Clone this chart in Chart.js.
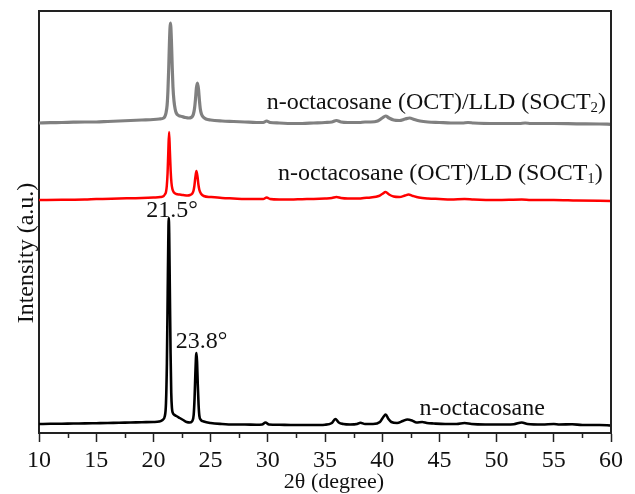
<!DOCTYPE html>
<html>
<head>
<meta charset="utf-8">
<script src="https://cdn.jsdelivr.net/npm/chart.js@4.4.1/dist/chart.umd.min.js"></script>
<style>
  html, body { margin: 0; padding: 0; background: #ffffff; }
  #wrap { width: 635px; height: 494px; position: relative; }
</style>
</head>
<body>
<div id="wrap"><canvas id="c" width="635" height="494"></canvas></div>
<script>
// 2θ (degree) tick labels
const xTicks = [10, 15, 20, 25, 30, 35, 40, 45, 50, 55, 60];
const xMinorTicks = [12.5, 17.5, 22.5, 27.5, 32.5, 37.5, 42.5, 47.5, 52.5, 57.5];

// Series: [2θ, stacked intensity (a.u.)]
const octPoints = [
  [10,9],[11,9.2],[12,9.3],[13,9.5],[14,9.6],[15,9.8],[16,10],[17,10.3],[18,10.5],[19,10.8],
  [20,11],[20.5,11.5],[20.8,13],[21.0,17],[21.1,30],[21.18,70],[21.25,140],[21.3,190],[21.34,215],
  [21.38,200],[21.43,150],[21.5,80],[21.56,40],[21.62,25],[21.7,20],[21.8,18.5],[22.0,17],[22.3,15],
  [22.6,13],[22.9,11],[23.2,10.5],[23.4,12],[23.52,18],[23.6,35],[23.67,60],[23.73,77],[23.77,80],
  [23.82,70],[23.88,48],[23.95,28],[24.02,17],[24.15,13],[24.4,11.5],[25,10],[26,9],[27,8.5],[28,8.5],
  [29,8.3],[29.5,8.5],[29.8,10.5],[30.1,8.5],[31,8.2],[32,8],[33,8],[34,8],[35,8.3],[35.6,10],[35.9,14],
  [36.2,10.5],[36.6,9],[37.2,8.5],[37.8,9],[38.1,10.3],[38.5,9],[39.2,9],[39.8,11],[40.1,16],[40.3,18.5],
  [40.55,14],[40.8,11],[41.3,10],[41.8,12],[42.2,13.5],[42.6,12.5],[43.0,10.5],[43.5,11],[43.9,10],
  [44.5,9.5],[45.5,9],[46.5,9],[47.2,10],[47.8,9],[49,8.5],[50,8.5],[51.5,8.8],[52.2,10.5],[52.7,9],
  [54,8.5],[55,9],[55.5,8.5],[56.6,8.7],[57.5,8],[59,8],[60,7.5]
];
const soct1Points = [
  [10,233],[12,233.3],[14,233.5],[15,234],[17,234.5],[19,235],[20,235.5],[20.6,236],[20.9,237],
  [21.0,238.5],[21.1,241],[21.17,247],[21.24,260],[21.3,280],[21.37,301],[21.44,282],[21.51,262],
  [21.58,250],[21.66,244],[21.8,240.5],[22.0,239],[22.3,238.5],[22.6,238],[23.0,237.5],[23.2,238],
  [23.4,239.5],[23.5,242],[23.58,247],[23.66,255],[23.76,262],[23.86,256],[23.94,248],[24.02,243],
  [24.15,239.5],[24.4,237],[25,236],[26,235],[27,234.5],[28,234],[29,234],[29.6,234],[29.9,235.5],
  [30.2,234],[31,233.5],[32,233.5],[33,233.8],[34,234],[35,234.5],[35.6,235],[36,236],[36.4,235],
  [37,234.5],[38,234.5],[38.4,235],[39,235.5],[39.7,237],[40.0,239],[40.3,241],[40.6,238.5],[41,236.5],
  [41.5,236],[42,237.5],[42.3,238.5],[42.7,237],[43.2,235.5],[44,234.5],[45,234],[46,233.5],[47.2,234],
  [48,233.5],[50,233],[52.2,233.5],[53,233],[55,233],[57,232.5],[60,232]
];
const soct2Points = [
  [10,310],[11,310.3],[12,310.5],[13,310.8],[14,311],[15,311],[16,311.5],[17,312],[18,312.5],[19,313],
  [20,313.5],[20.5,314],[20.9,315],[21.0,316.5],[21.1,320],[21.2,328],[21.27,342],[21.34,365],
  [21.41,393],[21.49,410],[21.57,394],[21.64,368],[21.71,346],[21.8,332],[21.9,324],[22.0,320],
  [22.2,317.5],[22.5,316.5],[22.8,315.5],[23.1,315],[23.3,315.5],[23.4,316.5],[23.5,319],[23.6,325],
  [23.68,334],[23.76,345],[23.85,350],[23.94,344],[24.02,333],[24.1,324],[24.2,319],[24.35,316],
  [24.6,314],[25,313],[26,312],[27,311.5],[28,311],[29,310.5],[29.6,310.5],[29.9,312],[30.2,310.5],[31,310],
  [32,309.5],[33,309.5],[34,310],[35,310.5],[35.6,311],[36,312.5],[36.4,311],[37,310.5],[38,310.5],
  [38.5,311],[39,311],[39.6,312],[40.0,315],[40.3,317],[40.6,315],[41,313],[41.5,312.5],[42,314],
  [42.4,315],[42.8,313.5],[43.3,312],[44,311],[45,310.5],[46,310],[47,310],[47.5,310.5],[48,310],
  [50,309.5],[52,309.5],[52.5,310],[53,309.5],[55,309.5],[57,309.2],[59,309],[60,308.7]
];

const FONT = '"Liberation Serif", "Times New Roman", serif';

const toXY = pts => pts.map(p => ({ x: p[0], y: p[1] }));

const annot = {
  id: 'annot',
  afterDraw(chart) {
    const { ctx, chartArea: a, scales: { x, y } } = chart;
    ctx.save();
    // frame (top & right)
    ctx.strokeStyle = '#222';
    ctx.lineWidth = 2;
    ctx.beginPath();
    ctx.moveTo(a.left, a.top); ctx.lineTo(a.right, a.top); ctx.lineTo(a.right, a.bottom);
    ctx.stroke();
    // minor ticks
    ctx.lineWidth = 1.5;
    ctx.beginPath();
    xMinorTicks.forEach(v => {
      const px = Math.round(x.getPixelForValue(v)) + 0.5;
      ctx.moveTo(px, a.bottom); ctx.lineTo(px, a.bottom + 5);
    });
    ctx.stroke();

    ctx.fillStyle = '#111';
    ctx.textBaseline = 'alphabetic';
    const rich = (px, py, segs, size) => {
      let cx = px;
      segs.forEach(s => {
        const fs = s.sub ? size * 0.62 : size;
        ctx.font = fs + 'px ' + FONT;
        ctx.fillText(s.t, cx, s.sub ? py + size * 0.12 : py);
        cx += ctx.measureText(s.t).width;
      });
    };
    ctx.textAlign = 'left';
    rich(x.getPixelForValue(29.9), y.getPixelForValue(324),
      [{ t: 'n-octacosane (OCT)/LLD (SOCT' }, { t: '2', sub: true }, { t: ')' }], 24);
    rich(x.getPixelForValue(30.9), y.getPixelForValue(253),
      [{ t: 'n-octacosane (OCT)/LD (SOCT' }, { t: '1', sub: true }, { t: ')' }], 24);
    ctx.font = '24px ' + FONT;
    ctx.textAlign = 'center';
    ctx.fillText('21.5°', x.getPixelForValue(21.64), y.getPixelForValue(216));
    ctx.textAlign = 'left';
    ctx.fillText('23.8°', x.getPixelForValue(21.95), y.getPixelForValue(85));
    ctx.fillText('n-octacosane', x.getPixelForValue(43.27), y.getPixelForValue(18));

    // axis titles
    ctx.textAlign = 'center';
    ctx.font = '22px ' + FONT;
    ctx.fillText('2θ (degree)', 334, 488);
    ctx.translate(33, 253);
    ctx.rotate(-Math.PI / 2);
    ctx.font = '24px ' + FONT;
    ctx.fillText('Intensity (a.u.)', 0, 0);
    ctx.restore();
  }
};

new Chart(document.getElementById('c'), {
  type: 'line',
  data: {
    datasets: [
      { label: 'n-octacosane', data: toXY(octPoints), borderColor: '#000000', borderWidth: 2.6 },
      { label: 'SOCT1', data: toXY(soct1Points), borderColor: '#ff0000', borderWidth: 2.5 },
      { label: 'SOCT2', data: toXY(soct2Points), borderColor: '#808080', borderWidth: 3.2 }
    ]
  },
  options: {
    responsive: false,
    animation: false,
    devicePixelRatio: 1,
    layout: { padding: { top: 11, right: 24, left: 0, bottom: 0 } },
    elements: { point: { radius: 0 }, line: { cubicInterpolationMode: 'monotone', borderJoinStyle: 'round' } },
    plugins: { legend: { display: false }, tooltip: { enabled: false } },
    scales: {
      x: {
        type: 'linear', min: 10, max: 60,
        afterBuildTicks: s => { s.ticks = xTicks.map(v => ({ value: v })); },
        afterFit: s => { s.height = 61; },
        ticks: { color: '#111', font: { family: FONT, size: 24 }, padding: 4, maxRotation: 0, autoSkip: false },
        grid: { drawOnChartArea: false, drawTicks: true, tickLength: 9, tickColor: '#222', tickWidth: 1.5 },
        border: { display: true, color: '#222', width: 2 }
      },
      y: {
        min: 0, max: 422,
        afterFit: s => { s.width = 39; },
        ticks: { display: false },
        grid: { display: false },
        border: { display: true, color: '#222', width: 2 }
      }
    }
  },
  plugins: [annot]
});
</script>
</body>
</html>
